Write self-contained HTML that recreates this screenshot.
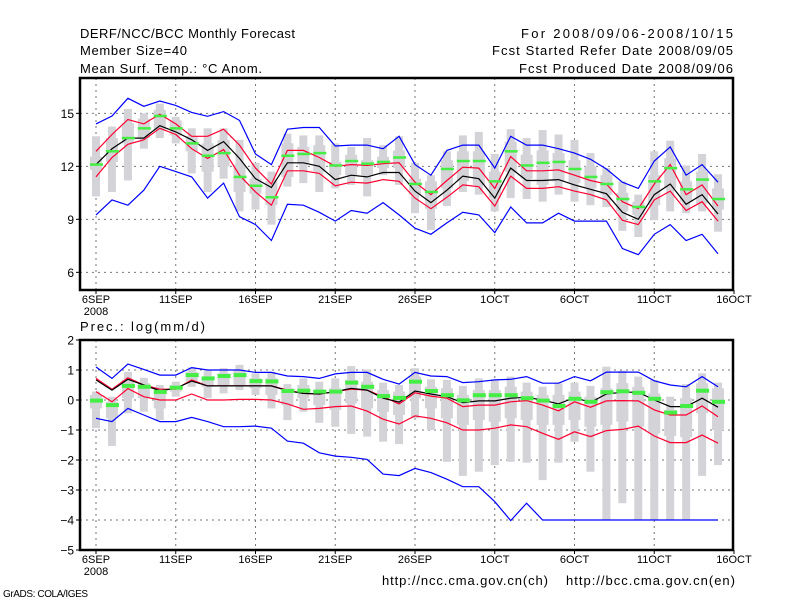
<!DOCTYPE html>
<html><head><meta charset="utf-8"><style>
html,body{margin:0;padding:0;background:#fff;}
svg{display:block;font-family:"Liberation Sans",sans-serif;}
</style></head><body>
<svg id="chart" width="800" height="600" viewBox="0 0 800 600">
<rect width="800" height="600" fill="#fff"/>
<g fill="#000" font-size="13">
<text x="80" y="38" textLength="215">DERF/NCC/BCC Monthly Forecast</text>
<text x="80" y="55" textLength="107">Member Size=40</text>
<text x="80" y="73" textLength="182">Mean Surf. Temp.: °C Anom.</text>
<text x="521" y="38" textLength="212">For 2008/09/06-2008/10/15</text>
<text x="492" y="55" textLength="241">Fcst Started Refer Date 2008/09/05</text>
<text x="519" y="73" textLength="214">Fcst Produced Date 2008/09/06</text>
<text x="80" y="331" textLength="125">Prec.: log(mm/d)</text>
<text x="382" y="585" textLength="166">http://ncc.cma.gov.cn(ch)</text>
<text x="566" y="585" textLength="169">http://bcc.cma.gov.cn(en)</text>
<text x="3" y="597" font-size="10" textLength="85">GrADS: COLA/IGES</text>
</g>
</svg>
<script>
// ---- Temperature panel data ----
const days = [0,1,2,3,4,5,6,7,8,9,10,11,12,13,14,15,16,17,18,19,20,21,22,23,24,25,26,27,28,29,30,31,32,33,34,35,36,37,38,39];
const xTickLabels = ["6SEP","11SEP","16SEP","21SEP","26SEP","1OCT","6OCT","11OCT","16OCT"];
const xTickDays = [0,5,10,15,20,25,30,35,40];
const tTicks = [6,9,12,15];
const tMax = [14.4,14.85,15.85,15.4,15.7,15.45,15.05,14.83,15.1,14.6,12.7,12.1,14.1,14.2,14.2,13.15,13.2,13.2,13.0,13.7,12.1,11.5,12.9,13.2,13.2,11.9,13.7,13.2,13.2,13.0,12.75,12.4,11.85,11.1,10.75,12.3,13.1,11.5,12.1,11.1];
const tMin = [9.25,10.1,9.8,10.65,12.0,11.7,11.4,10.2,11.05,9.15,8.7,7.8,9.85,9.8,9.4,8.9,9.5,9.35,9.95,9.25,8.5,8.15,8.8,9.4,9.25,8.25,9.7,8.8,8.8,9.35,8.9,8.9,8.9,7.35,7.0,8.15,8.7,7.8,8.15,7.05];
const tMean = [12.1,13.0,13.6,13.6,14.3,13.95,13.5,12.9,13.4,12.45,11.3,10.8,12.2,12.2,12.0,11.25,11.5,11.4,11.65,11.65,10.6,9.95,10.65,11.45,11.3,10.2,11.9,11.2,11.2,11.25,10.95,10.7,10.45,9.4,9.0,10.4,11.0,9.85,10.4,9.3];
const tUpper = [12.85,13.8,14.65,14.4,14.95,14.4,13.7,13.7,14.1,13.2,11.9,11.0,12.9,12.9,12.5,12.0,12.1,12.05,12.15,12.2,11.1,10.4,11.2,11.95,11.9,10.75,12.55,11.75,11.75,11.8,11.5,11.2,11.0,10.0,9.6,11.0,12.1,10.4,10.95,9.75];
const tLower = [11.4,12.5,13.25,13.5,14.15,13.8,13.0,12.45,12.95,11.5,10.55,9.8,11.75,11.75,11.6,10.9,11.1,11.05,11.25,11.15,10.2,9.6,10.25,10.95,10.85,9.75,11.45,10.75,10.75,10.85,10.6,10.4,10.1,8.95,8.7,10.1,10.6,9.5,10.0,8.9];
const tGreen = [12.1,12.85,13.6,14.15,14.85,14.15,13.3,12.6,12.75,11.4,10.9,10.25,12.6,12.7,12.75,12.05,12.3,12.15,12.25,12.5,11.0,10.55,11.85,12.3,12.3,11.15,12.85,12.05,12.2,12.25,11.85,11.4,11.0,10.15,9.7,11.15,11.9,10.7,11.25,10.15];
const tBoxHi = [13.7,14.25,15.25,15.0,15.55,14.8,14.15,14.15,14.15,13.5,12.2,11.7,13.85,13.75,13.75,13.3,13.1,13.6,13.2,13.7,12.2,11.5,12.85,13.75,13.95,12.7,14.1,13.6,14.05,13.8,13.5,12.75,11.9,11.15,10.4,12.85,13.45,12.05,12.7,11.55];
const tBoxLo = [10.3,10.55,11.2,13.0,13.6,13.3,11.6,10.55,11.3,9.45,9.55,8.7,10.85,11.05,10.55,10.75,10.95,10.3,11.5,10.95,9.35,8.4,9.75,10.55,10.4,9.45,10.2,10.15,10.0,10.4,10.0,9.8,9.7,8.35,8.0,8.95,9.45,9.35,9.45,8.3];
const tInHi = [12.55,13.6,14.45,14.7,15.2,14.6,13.7,13.3,13.5,12.1,11.3,11.15,13.3,13.1,13.2,12.25,12.65,12.35,12.55,12.9,11.3,11.15,12.35,12.85,12.85,11.7,13.4,12.65,12.9,12.75,12.35,12.0,11.5,10.5,10.0,11.5,12.45,11.15,11.7,10.75];
const tInLo = [11.8,12.25,13.3,13.6,14.05,13.75,12.85,11.7,12.0,10.55,10.45,9.8,11.4,12.1,11.7,11.5,11.5,11.5,11.9,11.9,10.4,9.6,10.75,11.15,10.95,10.2,11.7,11.3,10.95,11.15,11.05,10.75,10.4,9.45,9.25,9.8,10.75,10.0,9.9,9.55];
// ---- Precipitation panel data ----
const pTicks = [-5,-4,-3,-2,-1,0,1,2];
const pMax = [1.1,0.72,1.2,1.02,0.83,0.83,1.08,1.0,1.0,1.0,0.92,0.92,0.8,0.78,0.72,0.87,0.92,0.92,0.69,0.53,0.92,0.8,0.78,0.58,0.61,0.67,0.69,0.78,0.56,0.56,0.78,0.64,0.93,0.93,0.93,0.64,0.5,0.44,0.78,0.44];
const pMin = [-0.61,-0.72,-0.28,-0.5,-0.72,-0.72,-0.58,-0.72,-0.89,-0.89,-0.87,-0.94,-1.37,-1.44,-1.76,-1.87,-1.91,-1.98,-2.47,-2.52,-2.28,-2.42,-2.64,-2.89,-2.89,-3.39,-4.02,-3.44,-4.0,-4.0,-4.0,-4.0,-4.0,-4.0,-4.0,-4.0,-4.0,-4.0,-4.0,-4.0];
const pMean = [0.67,0.33,0.69,0.5,0.31,0.39,0.63,0.47,0.47,0.47,0.47,0.47,0.31,0.22,0.2,0.28,0.39,0.33,0.06,-0.07,0.3,0.2,0.11,-0.09,-0.03,-0.03,0.06,0.09,0.0,-0.13,0.08,-0.08,0.2,0.26,0.26,0.0,-0.22,-0.22,0.06,-0.24];
const pUpper = [0.72,0.36,0.74,0.5,0.36,0.36,0.67,0.47,0.47,0.47,0.47,0.47,0.33,0.22,0.2,0.28,0.36,0.33,0.11,-0.13,0.24,0.13,0.06,-0.22,-0.17,-0.17,-0.06,-0.02,-0.17,-0.36,-0.06,-0.24,-0.03,-0.02,-0.03,-0.33,-0.5,-0.5,-0.2,-0.56];
const pLower = [0.28,-0.06,0.38,0.11,0.0,0.0,0.2,0.0,0.0,0.02,0.02,0.0,-0.13,-0.31,-0.28,-0.22,-0.2,-0.37,-0.64,-0.8,-0.53,-0.61,-0.76,-1.0,-1.0,-0.94,-0.83,-0.89,-1.11,-1.31,-1.06,-1.22,-1.02,-0.98,-0.87,-1.2,-1.42,-1.42,-1.17,-1.44];
const pGreen = [-0.02,-0.17,0.47,0.44,0.27,0.41,0.83,0.72,0.8,0.83,0.63,0.62,0.3,0.31,0.28,0.28,0.58,0.44,0.13,0.07,0.61,0.3,0.16,-0.01,0.16,0.16,0.16,0.06,-0.02,-0.2,0.04,-0.06,0.26,0.29,0.24,0.04,-0.42,-0.2,0.31,-0.06];
const pBoxHi = [0.28,0.11,0.94,0.74,0.5,0.61,1.09,0.98,1.06,1.17,0.89,0.94,0.53,0.72,0.61,0.72,1.13,1.02,0.58,0.5,1.06,0.69,0.67,0.47,0.72,0.67,0.78,0.58,0.44,0.56,0.58,0.47,1.11,0.98,0.78,0.67,0.11,0.53,0.89,0.58];
const pBoxLo = [-0.94,-1.53,-0.44,-0.39,-0.67,0.11,0.44,0.06,0.22,0.33,0.17,-0.28,-0.67,-0.39,-0.76,-0.89,-1.13,-1.22,-1.39,-1.47,-0.61,-1.0,-2.06,-2.53,-2.39,-2.17,-2.06,-2.09,-2.67,-2.09,-1.39,-2.39,-4.0,-3.44,-4.0,-4.0,-4.0,-4.0,-2.53,-2.17];
const pInHi = [0.17,-0.06,0.67,0.56,0.28,0.5,0.94,0.78,0.89,1.0,0.72,0.72,0.39,0.5,0.33,0.39,0.67,0.61,0.33,0.28,0.78,0.44,0.39,0.17,0.33,0.33,0.44,0.28,0.17,0.17,0.28,0.11,0.39,0.56,0.44,0.22,-0.33,0.06,0.56,0.39];
const pInLo = [-0.28,-0.61,0.06,0.06,-0.28,0.28,0.61,0.44,0.5,0.5,0.39,0.17,-0.17,0.06,-0.17,-0.33,-0.11,-0.28,-0.39,-0.5,0.06,-0.28,-0.61,-0.83,-0.67,-0.72,-0.61,-0.67,-0.83,-0.83,-0.67,-0.89,-0.83,-0.72,-0.89,-1.11,-1.2,-1.24,-0.44,-1.0];

const NS = "http://www.w3.org/2000/svg";
const svg = document.getElementById("chart");
const X0 = 80, X1 = 733;
function xs(d){ return 96 + d * 15.95; }
function mk(tag, attrs, parent){
  const e = document.createElementNS(NS, tag);
  for (const k in attrs) e.setAttribute(k, attrs[k]);
  (parent || svg).appendChild(e);
  return e;
}

function panel(name, yTop, yBot, vTop, vBot, ticks, D, greenH) {
  const ys = v => yTop + (vTop - v) / (vTop - vBot) * (yBot - yTop);
  const g = mk("g", {});
  
  
  // grid
  const grid = mk("g", {stroke:"#777", "stroke-width":1, "stroke-dasharray":"2,4"}, g);
  
  
  ticks.forEach(t => { const y = ys(t); if (y > yTop + 2 && y < yBot - 2) mk("line", {x1:X0, x2:X1, y1:y, y2:y}, grid); });
  xTickDays.forEach(d => { const x = xs(d); if (x < X1 - 2) mk("line", {x1:x, x2:x, y1:yTop, y2:yBot}, grid); });
  // boxes
  const boxes = mk("g", {fill:"#d3d3d8"}, g);
  
  
  days.forEach((d, i) => {
    const x = xs(d);
    const r1 = mk("rect", {x:x-4, y:ys(D.bh[i]), width:8, height:Math.max(1, ys(D.bl[i]) - ys(D.bh[i]))}, boxes);
    
    
    const r2 = mk("rect", {x:x-6, y:ys(D.ih[i]), width:12, height:Math.max(1, ys(D.il[i]) - ys(D.ih[i]))}, boxes);
    
    
  });
  const line = (arr, color, nm) => {
    const p = mk("polyline", {points: days.map((d,i) => xs(d).toFixed(1) + "," + ys(arr[i]).toFixed(1)).join(" "), fill:"none", stroke:color, "stroke-width":1.2}, g);
    
    
  };
  line(D.max, "#0000ff", name + '-max-line');
  line(D.min, "#0000ff", name + '-min-line');
  line(D.up, "#ff0030", name + '-upper-line');
  line(D.lo, "#ff0030", name + '-lower-line');
  line(D.mean, "#000", name + '-mean-line');
  const gr = mk("g", {fill:"#44ee44"}, g);
  
  
  days.forEach((d, i) => {
    const r = mk("rect", {x:xs(d)-6, y:ys(D.g[i]) - greenH/2, width:13, height:greenH}, gr);
    
    
  });
  // frame
  const fr = mk("rect", {x:X0, y:yTop, width:X1-X0, height:yBot-yTop, fill:"none", stroke:"#000", "stroke-width":2.5}, g);
  
  
  // y ticks
  ticks.forEach(t => {
    const y = ys(t);
    mk("line", {x1:X0-4, x2:X0, y1:y, y2:y, stroke:"#000"}, g);
    const tx = mk("text", {x:X0-6, y:y+4.5, "text-anchor":"end", "font-size":12}, g);
    tx.textContent = String(t).replace("-", "\u2212");
    
    
  });
  // x ticks
  xTickDays.forEach((d, i) => {
    const x = xs(d);
    mk("line", {x1:x, x2:x, y1:yBot, y2:yBot+4, stroke:"#000"}, g);
    const tx = mk("text", {x:x, y:yBot+13, "text-anchor":"middle", "font-size":11}, g);
    tx.textContent = xTickLabels[i];
    
    
  });
  const yr = mk("text", {x:xs(0), y:yBot+25, "text-anchor":"middle", "font-size":11}, g);
  yr.textContent = "2008";
  
  
}

panel("temp", 78, 290, 17, 5, tTicks,
  {max:tMax, min:tMin, mean:tMean, up:tUpper, lo:tLower, g:tGreen, bh:tBoxHi, bl:tBoxLo, ih:tInHi, il:tInLo}, 2.5);
panel("prec", 340, 550, 2, -5, pTicks,
  {max:pMax, min:pMin, mean:pMean, up:pUpper, lo:pLower, g:pGreen, bh:pBoxHi, bl:pBoxLo, ih:pInHi, il:pInLo}, 4);
</script>
</body></html>
